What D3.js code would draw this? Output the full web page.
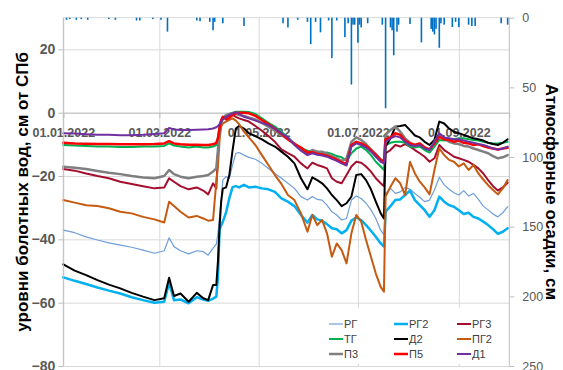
<!DOCTYPE html>
<html>
<head>
<meta charset="utf-8">
<script src="https://cdn.jsdelivr.net/npm/d3@7"></script>
<style>
  body { margin: 0; background: #ffffff; }
  svg { font-family: "Liberation Sans", Arial, sans-serif; }
</style>
</head>
<body>
<svg id="chart" width="563" height="370"></svg>
<script>
// ---- data ----
var dates = ["2022-01-01","2022-01-08","2022-01-15","2022-01-22","2022-01-29","2022-02-05","2022-02-12","2022-02-19","2022-02-26","2022-03-04","2022-03-07","2022-03-10","2022-03-14","2022-03-19","2022-03-24","2022-03-28","2022-03-31","2022-04-03",
  "2022-04-05","2022-04-06","2022-04-07","2022-04-08","2022-04-09","2022-04-11","2022-04-13","2022-04-15","2022-04-17","2022-04-19",
  "2022-04-22","2022-04-25","2022-04-29","2022-05-03","2022-05-07","2022-05-11","2022-05-15","2022-05-19","2022-05-23","2022-05-27","2022-05-31",
  "2022-06-03","2022-06-06","2022-06-09","2022-06-12","2022-06-15","2022-06-18","2022-06-21","2022-06-24","2022-06-27","2022-06-30","2022-07-03","2022-07-06","2022-07-09","2022-07-12","2022-07-15",
  "2022-07-17","2022-07-18",
  "2022-07-21","2022-07-24","2022-07-27","2022-07-30","2022-08-02","2022-08-05","2022-08-08","2022-08-11","2022-08-14","2022-08-17","2022-08-20","2022-08-23","2022-08-26","2022-08-29","2022-09-01","2022-09-04","2022-09-07","2022-09-10","2022-09-13","2022-09-16","2022-09-19","2022-09-22","2022-09-25","2022-09-28","2022-10-01"];

var series_names = ["РГ","РГ2","РГ3","ТГ","Д2","ПГ2","П3","П5","Д1"];

var rg = [-37.1,-37.9,-39.2,-40.2,-41.1,-41.8,-42.5,-43.4,-44.4,-43.6,-39.5,-42.3,-43.6,-44.6,-43.6,-43.9,-45.0,-42.8,
  -41.5,-38.1,-32.8,-27.6,-21.3,-20.2,-20.7,-16.5,-12.8,-12.6,
  -13.4,-14.1,-14.7,-16.0,-17.6,-19.2,-20.7,-22.3,-23.9,-26.5,-27.6,
  -26.5,-27.4,-27.6,-29.2,-31.3,-32.3,-33.9,-33.4,-27.6,-26.3,-27.1,-28.6,-30.7,-33.4,-37.1,
  -38.6,-25.5,
  -23.9,-25.5,-25.0,-23.6,-24.2,-25.5,-26.7,-28.1,-27.6,-24.4,-20.4,-22.8,-24.2,-25.3,-26.0,-24.6,-26.3,-25.5,-27.4,-29.5,-30.7,-32.0,-32.9,-31.6,-29.7];

var rg2 = [-52.0,-53.1,-54.1,-55.2,-56.2,-57.1,-58.3,-59.2,-60.0,-59.7,-53.7,-59.2,-59.0,-60.2,-58.3,-59.0,-59.4,-58.7,
  -58.1,-52.0,-37.0,-35.5,-34.5,-31.5,-27.0,-23.5,-23.2,-23.6,
  -22.8,-23.6,-23.4,-23.9,-24.2,-25.0,-27.1,-28.1,-29.5,-32.3,-34.7,
  -32.3,-33.7,-34.1,-35.2,-36.5,-36.8,-38.1,-37.1,-34.1,-33.1,-33.9,-35.5,-37.3,-39.2,-41.3,
  -42.3,-31.3,
  -29.5,-27.6,-27.4,-26.0,-24.6,-27.6,-29.2,-30.8,-32.9,-30.8,-26.5,-28.1,-29.2,-29.7,-30.8,-32.0,-31.6,-32.9,-33.4,-34.4,-35.5,-36.8,-38.3,-37.6,-36.5];

var rg3 = [-17.8,-18.3,-19.2,-20.0,-20.7,-21.8,-22.5,-23.2,-23.9,-23.6,-20.7,-21.8,-23.2,-24.2,-23.6,-24.6,-25.8,-22.3,
  -23.9,-12.8,-4.4,-2.5,-1.8,-1.3,-1.2,-0.7,-1.3,-1.8,
  -2.3,-2.8,-4.2,-5.7,-7.4,-9.2,-11.6,-12.8,-13.9,-16.0,-17.6,
  -15.8,-16.5,-17.0,-17.6,-20.7,-21.8,-22.3,-19.7,-17.0,-15.5,-15.8,-17.0,-18.6,-20.7,-22.3,
  -23.2,-12.8,
  -11.8,-10.2,-10.7,-9.9,-10.7,-11.8,-12.8,-13.9,-15.5,-14.4,-10.2,-11.8,-12.8,-13.9,-14.4,-14.9,-15.5,-16.5,-17.6,-19.2,-21.3,-23.2,-24.6,-23.6,-22.1];

var tg = [-10.2,-10.4,-10.5,-10.7,-10.7,-10.8,-10.8,-10.7,-10.7,-10.5,-9.7,-10.4,-10.7,-11.0,-10.7,-11.0,-11.0,-10.7,
  -10.2,-7.6,-4.4,-2.5,-1.8,-1.0,-0.4,0.0,0.3,0.3,
  0.3,0.2,-0.4,-1.8,-3.2,-4.4,-6.0,-7.8,-9.8,-11.2,-12.0,
  -12.1,-12.3,-12.8,-12.6,-13.0,-13.7,-14.1,-15.2,-12.8,-11.3,-10.7,-11.8,-13.4,-15.5,-17.0,
  -18.1,-10.2,
  -9.5,-9.2,-9.2,-9.5,-10.7,-11.0,-10.7,-11.8,-12.6,-10.7,-8.6,-8.8,-8.6,-8.4,-8.1,-8.1,-8.4,-8.6,-8.8,-9.2,-9.5,-9.7,-9.7,-9.5,-9.2];

var d2 = [-47.9,-49.9,-51.3,-52.9,-54.3,-55.5,-56.9,-58.1,-59.2,-58.6,-52.1,-57.9,-57.1,-59.7,-56.9,-58.6,-59.2,-54.4,
  -54.4,-47.0,-36.0,-28.0,-24.0,-23.6,-19.7,-11.8,-5.0,-4.2,
  -5.0,-6.5,-7.4,-8.4,-9.7,-10.7,-12.3,-13.9,-16.0,-20.7,-24.2,
  -20.4,-21.3,-22.3,-23.9,-26.0,-27.6,-29.5,-28.6,-26.5,-19.7,-19.4,-21.3,-24.2,-28.1,-31.8,
  -33.4,-10.7,
  -8.1,-4.4,-4.2,-3.9,-5.5,-7.2,-7.8,-9.2,-10.2,-8.6,-2.8,-3.4,-5.0,-6.0,-6.5,-7.0,-7.6,-8.1,-8.4,-8.8,-9.5,-9.9,-10.2,-9.5,-8.4];

var pg2 = [-27.6,-28.4,-29.2,-29.5,-30.2,-31.3,-31.8,-32.9,-33.7,-34.7,-28.1,-29.5,-31.3,-33.1,-32.6,-33.4,-34.1,-33.9,
  -21.8,-17.0,-8.6,-4.4,-3.4,-2.8,-2.3,-1.8,-2.5,-3.6,
  -6.0,-7.8,-10.2,-13.4,-16.5,-19.7,-22.5,-26.0,-27.6,-31.8,-37.6,
  -32.3,-35.5,-33.9,-38.1,-45.5,-41.3,-43.4,-47.6,-38.1,-32.3,-34.4,-40.2,-45.5,-50.8,-55.0,
  -56.5,-26.5,
  -23.4,-20.7,-22.3,-26.0,-15.5,-19.2,-21.8,-23.6,-25.8,-18.1,-11.3,-13.4,-14.9,-15.5,-17.0,-16.0,-18.1,-16.5,-19.2,-21.1,-22.9,-24.4,-25.8,-23.9,-21.3];

var p3 = [-17.1,-17.4,-17.8,-18.4,-19.0,-19.4,-20.0,-20.5,-20.7,-20.0,-18.1,-19.4,-20.2,-20.7,-20.2,-20.0,-19.7,-18.6,
  -17.6,-11.8,-6.0,-3.4,-1.8,-0.7,-0.4,-0.2,-0.4,-0.7,
  -1.0,-1.5,-2.1,-3.2,-4.4,-5.7,-7.0,-8.4,-9.7,-11.3,-12.8,
  -11.8,-12.3,-12.3,-13.0,-13.7,-14.4,-15.2,-14.4,-9.2,-7.8,-8.6,-9.9,-11.6,-13.0,-14.7,
  -15.5,-7.0,
  -5.5,-4.4,-6.0,-8.1,-9.5,-10.2,-9.9,-11.0,-11.8,-9.2,-7.0,-8.1,-9.2,-9.7,-9.9,-10.5,-10.7,-11.3,-11.8,-12.3,-12.8,-13.7,-14.4,-14.1,-13.4];

var p5 = [-9.5,-9.7,-9.8,-9.9,-9.9,-10.0,-10.0,-10.0,-9.9,-9.7,-9.0,-9.7,-10.0,-10.1,-10.1,-10.2,-10.2,-10.0,
  -9.5,-8.1,-5.0,-2.3,-1.3,-2.1,-1.6,-0.7,-0.2,0.0,
  0.0,-0.2,-1.0,-2.3,-3.6,-5.0,-6.7,-8.4,-9.9,-11.0,-12.6,
  -12.5,-13.0,-13.2,-13.6,-14.2,-14.9,-15.6,-16.2,-10.2,-9.2,-9.7,-10.5,-11.8,-13.4,-15.0,
  -15.5,-8.4,
  -7.8,-6.5,-7.0,-8.8,-9.7,-10.2,-9.7,-11.0,-11.6,-9.7,-7.6,-8.4,-8.6,-9.2,-8.8,-9.5,-9.7,-10.2,-10.0,-10.5,-11.0,-11.3,-11.6,-11.3,-11.1];

var d1 = [-6.5,-6.6,-6.8,-7.0,-7.0,-7.1,-7.1,-7.0,-6.7,-6.5,-4.8,-5.3,-5.5,-5.5,-5.4,-5.3,-5.2,-5.0,
  -4.6,-4.2,-3.6,-2.8,-2.1,-1.3,-0.7,-0.2,0.2,-0.4,
  -1.3,-1.8,-2.5,-3.2,-3.9,-5.0,-6.5,-7.8,-10.2,-12.0,-13.4,
  -12.8,-13.3,-13.5,-13.9,-14.6,-15.2,-16.0,-16.7,-10.7,-9.7,-10.2,-11.0,-12.3,-13.9,-15.5,
  -16.0,-9.2,
  -8.1,-7.4,-7.8,-9.2,-10.2,-10.5,-10.2,-11.3,-11.8,-9.2,-6.5,-7.8,-8.1,-8.4,-8.4,-8.8,-9.2,-9.5,-9.9,-10.2,-10.7,-11.3,-11.6,-11.3,-10.7];

// daily precipitation (secondary axis, hanging from the top)
var rain_dates = ["2022-01-03","2022-01-05","2022-01-09","2022-01-12","2022-01-16","2022-01-29","2022-02-02","2022-02-15","2022-02-17","2022-02-25",
  "2022-03-02","2022-03-06","2022-03-24","2022-03-26","2022-04-01","2022-04-03","2022-04-04","2022-04-09","2022-04-22","2022-05-16",
  "2022-05-19","2022-05-25","2022-05-31","2022-06-02","2022-06-05","2022-06-08","2022-06-13","2022-06-15","2022-06-18","2022-06-23",
  "2022-06-25","2022-06-27","2022-06-28","2022-06-29","2022-07-01","2022-07-02","2022-07-03","2022-07-07","2022-07-16","2022-07-18",
  "2022-07-21","2022-07-22","2022-07-23","2022-07-25","2022-07-26","2022-08-02","2022-08-09","2022-08-15","2022-08-16","2022-08-17",
  "2022-08-18","2022-08-20","2022-08-21","2022-08-23","2022-08-28","2022-08-30","2022-09-01","2022-09-07","2022-09-09","2022-09-11",
  "2022-09-27","2022-10-01"];
var rain_values = [1.5,1,1.5,1,1.5,1,1.5,2,2,1,
  1.5,10,2,2.5,3,9,3,4,6,4,
  7,1.5,3,19,3,10.5,2,29,2,14,
  4,48,5,5,18,5,7,4,5,65,
  7,9,27,10,5,4.5,17.7,8,10,12,
  8,21.6,4,5,6.7,3,6.7,5,6,6,
  4,5];

var level_ticks = [-80, -60, -40, -20, 0, 20];
var rain_ticks = [0, 50, 100, 150, 200, 250];
var date_ticks = ["2022-01-01", "2022-03-01", "2022-05-01", "2022-07-01", "2022-09-01"];

// ---- styles ----
var series_colors = ["#6f9fd8", "#00b0f0", "#a50f2d", "#00b050", "#000000", "#c55a11", "#7f7f7f", "#ff0000", "#7030a0"];
var series_widths = [1.2, 2.5, 2, 2, 2, 2, 2.5, 2.5, 2];
var axis_text_color = "#595959";
var grid_color = "#d9d9d9";

var svg = d3.select("#chart");
var plot_left = 63.3, plot_right = 509.3, plot_top = 17.7, plot_bottom = 366;

var parse_date = d3.utcParse("%Y-%m-%d");
var x_scale = d3.scaleUtc()
  .domain([parse_date("2022-01-01"), parse_date("2022-10-02")])
  .range([plot_left, plot_right]);
var y_level = d3.scaleLinear().domain([-80, 30]).range([plot_bottom, plot_top]);
var y_rain = d3.scaleLinear().domain([0, 250]).range([plot_top, plot_bottom]);

// horizontal gridlines
var h_grid = svg.append("g")
  .attr("transform", "translate(" + plot_left + ",0)")
  .call(d3.axisLeft(y_level).tickValues(level_ticks).tickSize(-(plot_right - plot_left)).tickFormat(""));
h_grid.select(".domain").remove();
h_grid.selectAll("line").attr("stroke", grid_color);

// vertical gridlines at date ticks
var v_grid = svg.append("g")
  .attr("transform", "translate(0," + plot_bottom + ")")
  .call(d3.axisBottom(x_scale).tickValues(date_ticks.map(parse_date)).tickSize(-(plot_bottom - plot_top)).tickFormat(""));
v_grid.select(".domain").remove();
v_grid.selectAll("line").attr("stroke", grid_color);

// top border
svg.append("line")
  .attr("x1", plot_left).attr("x2", plot_right)
  .attr("y1", plot_top).attr("y2", plot_top)
  .attr("stroke", grid_color);

// precipitation bars
var rain_data = rain_dates.map(function (d, i) { return { date: parse_date(d), value: rain_values[i] }; });
svg.append("g").selectAll("rect")
  .data(rain_data)
  .enter()
  .append("rect")
  .attr("x", function (d) { return x_scale(d.date) - 0.8; })
  .attr("width", 1.6)
  .attr("y", y_rain(0))
  .attr("height", function (d) { return y_rain(d.value) - y_rain(0); })
  .attr("fill", "#0070c0");

// date axis crossing at 0
var date_axis = svg.append("g")
  .attr("transform", "translate(0," + y_level(0) + ")")
  .call(d3.axisBottom(x_scale)
    .tickValues(date_ticks.map(parse_date))
    .tickFormat(d3.utcFormat("%d.%m.%Y"))
    .tickSize(5)
    .tickPadding(10));
date_axis.select(".domain").attr("stroke", "#bfbfbf");
date_axis.selectAll("line").attr("stroke", "#bfbfbf");
date_axis.selectAll("text")
  .attr("fill", axis_text_color)
  .style("font-size", "12.5px")
  .style("font-weight", "bold");

// water level lines
var level_values = [rg, rg2, rg3, tg, d2, pg2, p3, p5, d1];
var line_gen = d3.line()
  .x(function (d) { return x_scale(d.date); })
  .y(function (d) { return y_level(d.value); });

var lines_group = svg.append("g");
level_values.forEach(function (vals, idx) {
  var pts = vals.map(function (v, i) { return { date: parse_date(dates[i]), value: v }; });
  lines_group.append("path")
    .datum(pts)
    .attr("d", line_gen)
    .attr("fill", "none")
    .attr("stroke", series_colors[idx])
    .attr("stroke-width", series_widths[idx])
    .attr("stroke-linejoin", "round")
    .attr("stroke-linecap", "round");
});

// left axis
var left_axis = svg.append("g")
  .attr("transform", "translate(" + plot_left + ",0)")
  .call(d3.axisLeft(y_level).tickValues(level_ticks).tickSize(5).tickPadding(3));
left_axis.select(".domain").attr("stroke", "#bfbfbf").attr("d", "M0," + plot_top + "V" + plot_bottom);
left_axis.selectAll("line").attr("stroke", "#bfbfbf");
left_axis.selectAll("text")
  .attr("fill", axis_text_color)
  .style("font-size", "14px")
  .style("font-weight", "bold");

// right axis (precipitation)
var right_axis = svg.append("g")
  .attr("transform", "translate(" + plot_right + ",0)")
  .call(d3.axisRight(y_rain).tickValues(rain_ticks).tickSize(5).tickPadding(8));
right_axis.select(".domain").attr("stroke", "#bfbfbf").attr("d", "M0," + plot_top + "V" + plot_bottom);
right_axis.selectAll("line").attr("stroke", "#bfbfbf");
right_axis.selectAll("text")
  .attr("fill", axis_text_color)
  .style("font-size", "12.5px");

// axis titles
var mid_y = (plot_top + plot_bottom) / 2;
svg.append("text")
  .attr("transform", "translate(22," + mid_y + ") rotate(-90)")
  .attr("text-anchor", "middle")
  .attr("dy", "0.35em")
  .style("font-size", "17px")
  .style("font-weight", "bold")
  .attr("fill", "#000")
  .text("уровни болотных вод, см от СПб");

svg.append("text")
  .attr("transform", "translate(552," + mid_y + ") rotate(90)")
  .attr("text-anchor", "middle")
  .attr("dy", "0.35em")
  .style("font-size", "17px")
  .style("font-weight", "bold")
  .attr("fill", "#000")
  .text("Атмосферные осадки, см");

// legend (3 x 3, white box over the grid)
var legend_cols = [329, 394, 457];
var legend_rows = [324, 339, 354];
svg.append("rect")
  .attr("x", 322).attr("y", 308)
  .attr("width", 185).attr("height", 56)
  .attr("fill", "#ffffff");

var legend_items = svg.append("g").selectAll("g")
  .data(series_names)
  .enter()
  .append("g")
  .attr("transform", function (d, i) {
    return "translate(" + legend_cols[i % 3] + "," + legend_rows[Math.floor(i / 3)] + ")";
  });
legend_items.append("line")
  .attr("x1", 0).attr("x2", 14)
  .attr("y1", 0).attr("y2", 0)
  .attr("stroke", function (d, i) { return series_colors[i]; })
  .attr("stroke-width", function (d, i) { return series_widths[i]; });
legend_items.append("text")
  .attr("x", 15)
  .attr("dy", "0.35em")
  .style("font-size", "11px")
  .attr("fill", "#404040")
  .text(function (d) { return d; });
</script>
</body>
</html>
